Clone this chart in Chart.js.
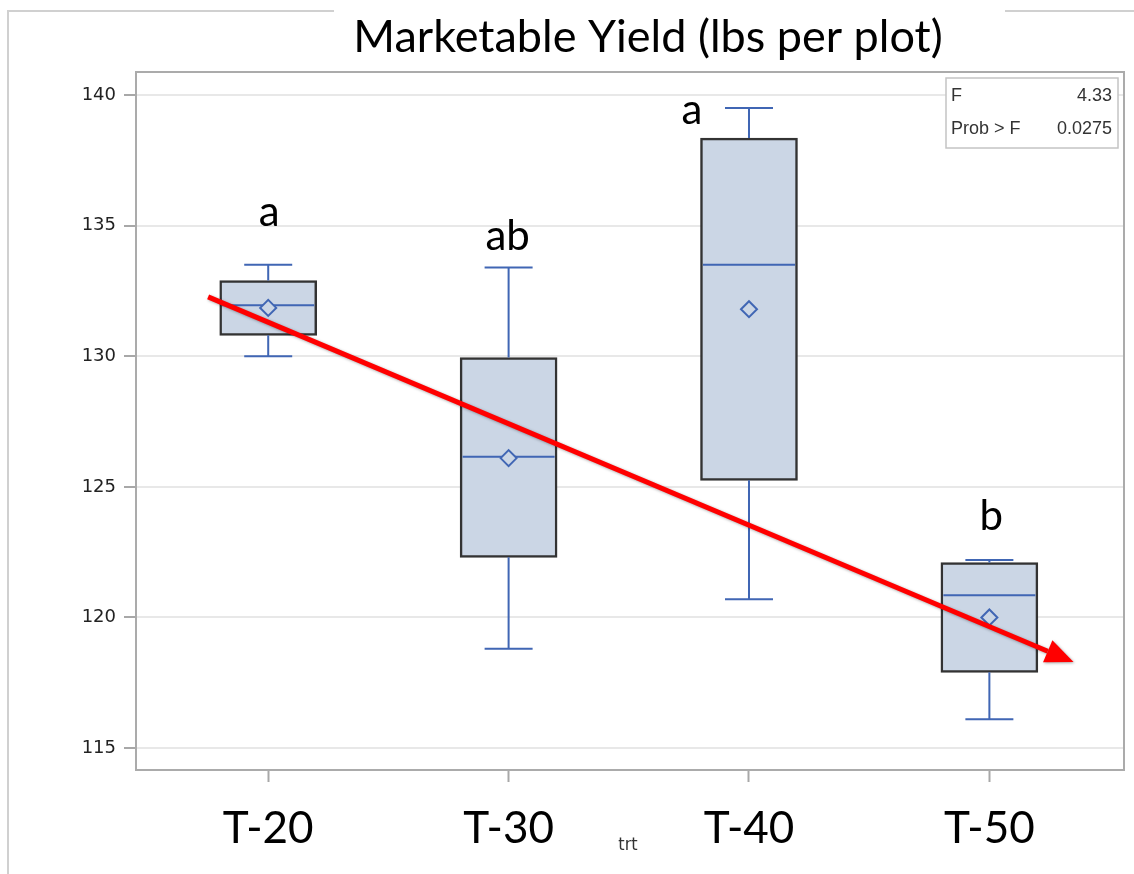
<!DOCTYPE html>
<html lang="en">
  <head>
    <meta charset="utf-8" />
    <title>Marketable Yield (lbs per plot)</title>
    <style>
      * {
        margin: 0;
        padding: 0;
      }
      body {
        background: white;
      }
      .chartBox {
        width: 1134px;
        height: 874px;
      }
    </style>
  </head>
  <body>
    <div class="chartBox">
      <canvas id="myChart" width="1134" height="874"></canvas>
    </div>

    <script src="https://cdn.jsdelivr.net/npm/chart.js@4"></script>

    <script>
      // data block
      const categories = ["T-20", "T-30", "T-40", "T-50"];
      const whiskerLow = [130.0, 118.8, 120.7, 116.1];
      const q1 = [130.8, 122.3, 125.25, 117.9];
      const median = [131.95, 126.15, 133.5, 120.85];
      const q3 = [132.9, 129.95, 138.35, 122.1];
      const whiskerHigh = [133.5, 133.4, 139.5, 122.2];
      const means = [131.85, 126.1, 131.8, 120.0];
      const groupLetters = ["a", "ab", "a", "b"];
      const yTicks = [115, 120, 125, 130, 135, 140];
      // hand drawn trend arrow, in axis units
      const trendX = [-0.25, 3.35];
      const trendY = [132.27, 118.29];
      const anovaF = "4.33";
      const anovaP = "0.0275";

      const boxBlue = "#4066b4";
      const boxFill = "#cbd6e5";

      // whiskers + medians, drawn right after the boxes
      const boxWhiskers = {
        id: "boxWhiskers",
        afterDatasetDraw(chart, args) {
          if (args.index !== 0) return;
          const {
            ctx,
            scales: { x, y },
          } = chart;
          ctx.save();
          ctx.strokeStyle = boxBlue;
          ctx.lineWidth = 2;
          categories.forEach((c, i) => {
            const cx = x.getPixelForValue(i);
            const yLo = y.getPixelForValue(whiskerLow[i]);
            const yHi = y.getPixelForValue(whiskerHigh[i]);
            const yQ1 = y.getPixelForValue(q1[i]);
            const yQ3 = y.getPixelForValue(q3[i]);
            const yMed = y.getPixelForValue(median[i]);
            ctx.beginPath();
            ctx.moveTo(cx, yQ3);
            ctx.lineTo(cx, yHi);
            ctx.moveTo(cx - 24, yHi);
            ctx.lineTo(cx + 24, yHi);
            ctx.moveTo(cx, yQ1);
            ctx.lineTo(cx, yLo);
            ctx.moveTo(cx - 24, yLo);
            ctx.lineTo(cx + 24, yLo);
            ctx.moveTo(cx - 46, yMed);
            ctx.lineTo(cx + 46, yMed);
            ctx.stroke();
          });
          ctx.restore();
        },
      };

      // letters, trend arrow, anova inset
      const overlays = {
        id: "overlays",
        afterDatasetsDraw(chart, args, opts) {
          const {
            ctx,
            chartArea: { top, bottom, left, right },
            scales: { x, y },
          } = chart;
          ctx.save();

          // frame top + right
          ctx.strokeStyle = "#ababab";
          ctx.lineWidth = 2;
          ctx.beginPath();
          ctx.moveTo(left, top);
          ctx.lineTo(right, top);
          ctx.lineTo(right, bottom);
          ctx.stroke();

          // group letters
          ctx.fillStyle = "#000";
          ctx.font = "42px Lato";
          ctx.textAlign = "center";
          ctx.textBaseline = "alphabetic";
          groupLetters.forEach((t, i) => {
            const off = opts.letterOffsets[i];
            ctx.fillText(
              t,
              x.getPixelForValue(i) + off[0],
              y.getPixelForValue(whiskerHigh[i]) + off[1]
            );
          });

          // red arrow
          const x1 = x.getPixelForValue(trendX[0]);
          const y1 = y.getPixelForValue(trendY[0]);
          const x2 = x.getPixelForValue(trendX[1]);
          const y2 = y.getPixelForValue(trendY[1]);
          const ang = Math.atan2(y2 - y1, x2 - x1);
          const headLen = 28;
          const headW = 12;
          const bx = x2 - headLen * Math.cos(ang);
          const by = y2 - headLen * Math.sin(ang);
          ctx.shadowColor = "rgba(0,0,0,0.35)";
          ctx.shadowBlur = 3;
          ctx.shadowOffsetX = 1;
          ctx.shadowOffsetY = 1;
          ctx.strokeStyle = "#ff0000";
          ctx.fillStyle = "#ff0000";
          ctx.lineWidth = 5;
          ctx.beginPath();
          ctx.moveTo(x1, y1);
          ctx.lineTo(bx, by);
          ctx.stroke();
          ctx.beginPath();
          ctx.moveTo(x2, y2);
          ctx.lineTo(bx + headW * Math.sin(ang), by - headW * Math.cos(ang));
          ctx.lineTo(bx - headW * Math.sin(ang), by + headW * Math.cos(ang));
          ctx.closePath();
          ctx.fill();
          ctx.shadowColor = "transparent";
          ctx.shadowBlur = 0;
          ctx.shadowOffsetX = 0;
          ctx.shadowOffsetY = 0;

          // anova inset
          ctx.fillStyle = "#fff";
          ctx.fillRect(946, 78, 172, 70);
          ctx.strokeStyle = "#c4c4c4";
          ctx.lineWidth = 1.5;
          ctx.strokeRect(946, 78, 172, 70);
          ctx.fillStyle = "#333";
          ctx.font = "18px 'Liberation Sans'";
          ctx.textBaseline = "middle";
          ctx.textAlign = "left";
          ctx.fillText("F", 951, 96);
          ctx.fillText("Prob > F", 951, 129);
          ctx.textAlign = "right";
          ctx.fillText(anovaF, 1112, 96);
          ctx.fillText(anovaP, 1112, 129);

          ctx.restore();
        },
        afterDraw(chart) {
          const { ctx } = chart;
          ctx.save();
          // outer border of the sas graph
          ctx.strokeStyle = "#d0d0d0";
          ctx.lineWidth = 2;
          ctx.beginPath();
          ctx.moveTo(8, 874);
          ctx.lineTo(8, 11);
          ctx.lineTo(334, 11);
          ctx.moveTo(1005, 11);
          ctx.lineTo(1134, 11);
          ctx.stroke();

          ctx.fillStyle = "#000";
          ctx.font = "45px Lato";
          ctx.textAlign = "center";
          ctx.textBaseline = "alphabetic";
          ctx.fillText("Marketable Yield (lbs per plot)", 648, 52);

          ctx.fillStyle = "#333";
          ctx.font = "18px 'DejaVu Sans Condensed', 'Liberation Sans Narrow', sans-serif";
          ctx.fillText("trt", 628, 850);
          ctx.restore();
        },
      };

      // config block
      const config = {
        type: "bar",
        data: {
          datasets: [
            {
              type: "bar",
              data: categories.map((c, i) => ({ x: i, y: [q1[i], q3[i]] })),
              backgroundColor: boxFill,
              borderColor: "#333333",
              borderWidth: 2.5,
              borderSkipped: false,
              barThickness: 97,
              order: 2,
            },
            {
              type: "scatter",
              data: categories.map((c, i) => ({ x: i, y: means[i] })),
              pointStyle: "rectRot",
              pointRadius: 8,
              borderColor: boxBlue,
              borderWidth: 2,
              backgroundColor: boxFill,
              order: 1,
            },
          ],
        },
        options: {
          responsive: false,
          animation: false,
          layout: { padding: { top: 72, right: 4, left: 0, bottom: 0 } },
          plugins: {
            legend: { display: false },
            tooltip: { enabled: false },
            overlays: {
              letterOffsets: [
                [1, -39],
                [-1, -17],
                [-57, 16],
                [2, -30],
              ],
            },
          },
          scales: {
            x: {
              type: "linear",
              min: -0.55,
              max: 3.56,
              offset: false,
              afterBuildTicks: (scale) => {
                scale.ticks = categories.map((c, i) => ({ value: i }));
              },
              afterFit: (scale) => {
                scale.height = 104;
              },
              grid: {
                offset: false,
                drawOnChartArea: false,
                tickLength: 12,
                tickColor: "#a8a8a8",
                tickWidth: 2,
              },
              border: { color: "#ababab", width: 2 },
              ticks: {
                autoSkip: false,
                maxRotation: 0,
                padding: 20,
                color: "#000",
                font: { family: "Lato", size: 44 },
                callback: (v) => categories[v],
              },
            },
            y: {
              min: 114.16,
              max: 140.88,
              afterBuildTicks: (scale) => {
                scale.ticks = yTicks.map((v) => ({ value: v }));
              },
              afterFit: (scale) => {
                scale.width = 136;
              },
              grid: {
                color: "#e8e8e8",
                lineWidth: 2,
                tickLength: 12,
                tickColor: "#a8a8a8",
                tickWidth: 2,
              },
              border: { color: "#ababab", width: 2 },
              ticks: {
                padding: 8,
                color: "#222",
                font: { family: "DejaVu Sans", size: 18 },
              },
            },
          },
        },
        plugins: [boxWhiskers, overlays],
      };

      // init render block
      const myChart = new Chart(document.getElementById("myChart"), config);
    </script>
  </body>
</html>
